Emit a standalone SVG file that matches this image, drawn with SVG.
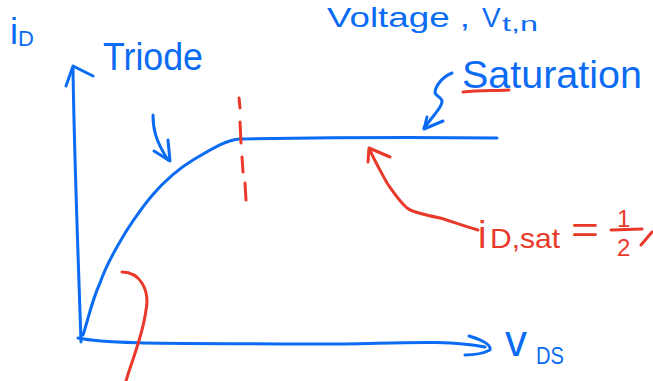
<svg xmlns="http://www.w3.org/2000/svg" width="653" height="381" viewBox="0 0 653 381">
<style>
.b{fill:none;stroke:#0b6cf3;stroke-width:3;stroke-linecap:round;stroke-linejoin:round}
.r{fill:none;stroke:#e8392a;stroke-width:3;stroke-linecap:round;stroke-linejoin:round}
.tb{fill:#0b6cf3;font-family:"Liberation Sans",Arial,sans-serif}
.tr{fill:#e8392a;font-family:"Liberation Sans",Arial,sans-serif}
</style>
<rect width="653" height="381" fill="#fff"/>
<g id="axes">
  <path class="b" d="M73,68 C74,150 78,250 81,342"/>
  <path class="b" d="M66,86 L73,66 L93,76"/>
  <path class="b" d="M78,338 C110,345 200,343 300,344 C380,345 440,338 485,347"/>
  <path class="b" d="M469,336 Q492,343 490,350 Q480,355 465,355"/>
</g>
<g id="curve">
  <path class="b" d="M83,335 C88,320 92,300 100,283 C108,260 118,245 127,230 C140,210 160,180 193,160 C210,150 225,140 240,139 C300,138 400,137 497,138"/>
</g>
<g id="boundary">
  <path class="r" d="M239,98 L240,108 M240,122 L241,143 M242,157 L243,172 M245,183 L246,200"/>
</g>
<g id="triode-arrow">
  <path class="b" d="M153,115 C153,128 155,140 168,160"/>
  <path class="b" d="M154,151 L170,161 L168,140"/>
</g>
<g id="sat-arrow">
  <path class="b" d="M452,73 C440,78 435,88 435,93 C437,97 443,98 442,102 C441,107 438,110 435,114 L424,128"/>
  <path class="b" d="M427,117 L424,129 L443,121"/>
</g>
<g id="sat-underline">
  <path class="r" d="M463,92 C480,90 495,91 509,90"/>
</g>
<g id="isat-arrow">
  <path class="r" d="M478,230 C460,225 448,220 440,218 C425,215 412,212 407,208 C398,200 392,190 387,183 C380,170 373,158 370,150"/>
  <path class="r" d="M368,162 L369,148 L390,157"/>
</g>
<g id="red-curve">
  <path class="r" d="M122,272 C140,272 150,290 146,310 C143,335 132,360 126,381"/>
</g>
<g id="labels">
  <text class="tb" font-size="36"><tspan x="10" y="44">i</tspan><tspan font-size="22" y="46">D</tspan></text>
  <text class="tb" x="103" y="70" font-size="38" textLength="100" lengthAdjust="spacingAndGlyphs">Triode</text>
  <text class="tb" x="327" y="27" font-size="28" textLength="143" lengthAdjust="spacingAndGlyphs">Voltage ,</text>
  <text class="tb" x="482" y="27" font-size="28">V</text>
  <text class="tb" x="502" y="31" font-size="20" textLength="36" lengthAdjust="spacingAndGlyphs">t,n</text>
  <text class="tb" x="462" y="88" font-size="38" textLength="180" lengthAdjust="spacingAndGlyphs">Saturation</text>
  <text class="tb" x="505" y="356" font-size="44">v</text>
  <text class="tb" x="536" y="364" font-size="24" textLength="28" lengthAdjust="spacingAndGlyphs">DS</text>
  <text class="tr" x="478" y="248" font-size="38">i</text>
  <text class="tr" x="490" y="248" font-size="28" textLength="70" lengthAdjust="spacingAndGlyphs">D,sat</text>
  <text class="tr" x="571" y="242" font-size="36" textLength="28" lengthAdjust="spacingAndGlyphs">=</text>
  <text class="tr" x="617" y="227" font-size="24">1</text>
  <path class="r" d="M611,230 L642,229"/>
  <text class="tr" x="617" y="256" font-size="24">2</text>
  <path class="r" d="M641,245 L652,232"/>
</g>
</svg>
